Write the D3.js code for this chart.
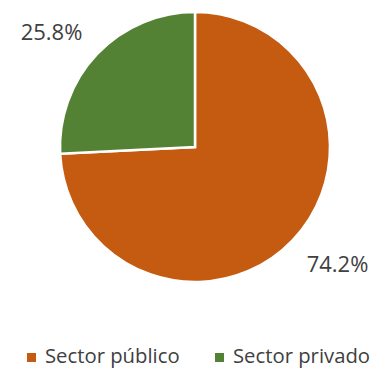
<!DOCTYPE html>
<html>
<head>
<meta charset="utf-8">
<script src="https://cdn.jsdelivr.net/npm/d3@7"></script>
<style>
  html, body { margin: 0; padding: 0; background: #fff; }
  svg { display: block; }
</style>
</head>
<body>
<svg id="chart" width="374" height="368"></svg>
<script>
const categories = ["Sector público", "Sector privado"];
const values = [74.2, 25.8];
const valueLabels = ["74.2%", "25.8%"];
const colors = ["#C55A11", "#548235"];

const svg = d3.select("#chart");
const cx = 195, cy = 147, r = 135;
const font = "'Open Sans', sans-serif";
const textColor = "#404040";

const data = categories.map((c, i) => ({ name: c, value: values[i], label: valueLabels[i], color: colors[i] }));

const pie = d3.pie().sort(null).value(d => d.value);
const arc = d3.arc().innerRadius(0).outerRadius(r);
const arcs = pie(data);

const g = svg.append("g").attr("transform", `translate(${cx},${cy})`);
g.selectAll("path")
  .data(arcs)
  .join("path")
  .attr("d", arc)
  .attr("fill", d => d.data.color)
  .attr("stroke", "#fff")
  .attr("stroke-width", 2.5)
  .attr("stroke-linejoin", "miter");

// value labels outside the pie
const labelPos = [[337.5, 272], [51.5, 40]];
svg.selectAll("text.value")
  .data(arcs)
  .join("text")
  .attr("class", "value")
  .attr("x", (d, i) => labelPos[i][0])
  .attr("y", (d, i) => labelPos[i][1])
  .attr("text-anchor", "middle")
  .attr("font-family", font)
  .attr("font-size", 22)
  .attr("fill", textColor)
  .text(d => d.data.label);

// legend
const legendX = [27, 215];
const lg = svg.selectAll("g.legend")
  .data(data)
  .join("g")
  .attr("class", "legend")
  .attr("transform", (d, i) => `translate(${legendX[i]},353)`);
lg.append("rect")
  .attr("width", 9).attr("height", 9)
  .attr("fill", d => d.color);
lg.append("text")
  .attr("x", 18).attr("y", 9.5)
  .attr("font-family", font)
  .attr("font-size", 20.3)
  .attr("fill", textColor)
  .text(d => d.name);
</script>
</body>
</html>
